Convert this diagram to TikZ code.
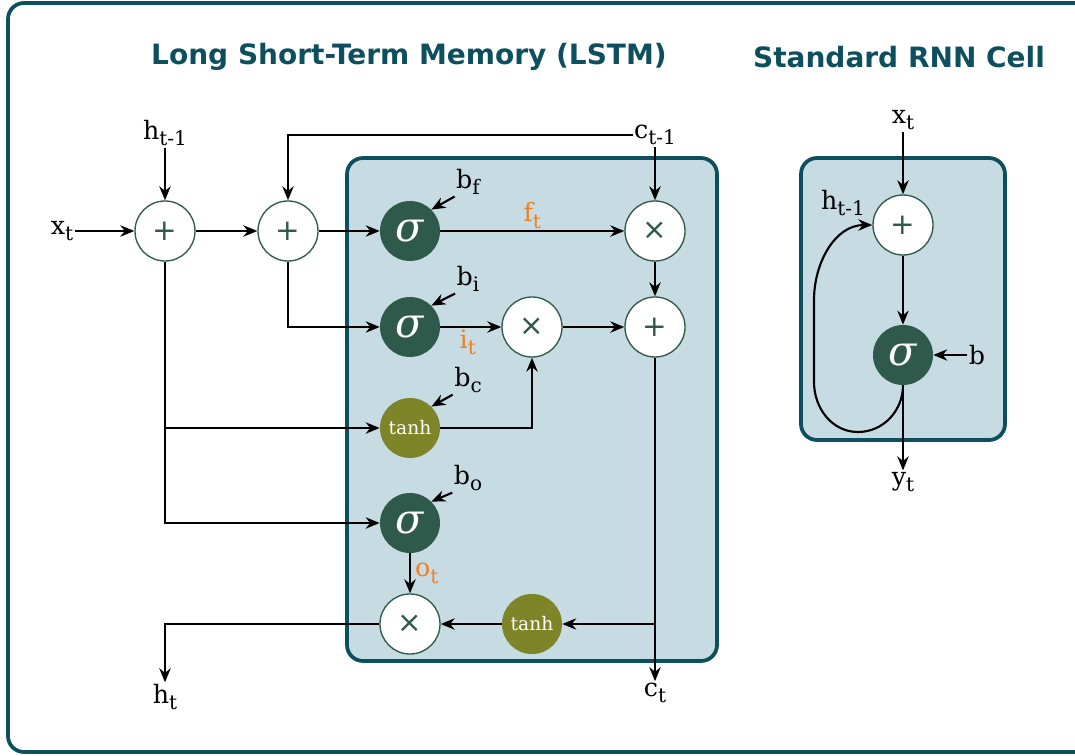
\documentclass[tikz,border=0pt]{standalone}
\usepackage{fontspec}
\setmainfont{DejaVu Serif}
\newfontfamily\titlefont{DejaVu Sans}
\usepackage{xcolor}
\usetikzlibrary{arrows.meta,positioning,calc}
\tikzset{>=stealth}

\definecolor{tealdark}{HTML}{0D4F5E}
\definecolor{cellfill}{HTML}{C7DCE2}
\definecolor{gatedark}{HTML}{2F5A4B}
\definecolor{gateolive}{HTML}{7E8428}
\definecolor{gateorange}{HTML}{F07F1E}
\newcommand{\lsub}[2]{#1\raisebox{-0.5ex}{\fontsize{15}{15}\selectfont #2}}

\begin{document}
\begin{tikzpicture}[
		x=0.75pt, y=-0.75pt,
		>={Stealth[length=10.5pt,width=8.5pt]},
		frame/.style={draw=tealdark, line width=2.8pt, rounded corners=12pt},
		cell/.style={frame, fill=cellfill},
		opnode/.style={circle, draw=gatedark, line width=1pt, fill=white,
			minimum size=45pt, inner sep=0pt, text=gatedark,
			font=\titlefont\fontsize{22}{22}\selectfont},
		signode/.style={circle, fill=gatedark, minimum size=45pt, inner sep=0pt,
			text=white, font=\fontsize{31}{31}\selectfont\itshape},
		tanhnode/.style={circle, fill=gateolive, minimum size=45pt, inner sep=0pt,
			text=white, font=\fontsize{14}{14}\selectfont},
		lbl/.style={font=\fontsize{19}{21}\selectfont, inner sep=1pt},
		gatelbl/.style={lbl, text=gateorange},
		arrow/.style={->, line width=1.6pt},
		title/.style={font=\titlefont\bfseries\fontsize{21}{24}\selectfont, text=tealdark}
		]
		
		\useasboundingbox (0,0) rectangle (1075,756);
		
		% Frames
		\draw[frame] (8,3) rectangle (1095,752);
		\draw[cell] (347,158) rectangle (717,661);
		\draw[cell] (801,158) rectangle (1005,440);
		
		% Titles
		\node[title] (lstmtitle) at (409,57) {Long Short-Term Memory (LSTM)};
		\node[title] (rnntitle) at (899,57) {Standard RNN Cell};
		
		% LSTM inputs
		\node[lbl] (xt) at (62,231) {\lsub{x}{t}};
		\node[lbl] (hprev) at (165,133) {\lsub{h}{t-1}};
		\node[lbl] (cprev) at (655,135) {\lsub{c}{t-1}};
		
		% Row 1: input sums and forget gate
		\node[opnode] (add1) at (165,231) {+};
		\node[opnode] (add2) at (288,231) {+};
		\node[signode] (sigf) at (410,231) {σ};
		\node[opnode] (mulf) at (655,231) {×};
		
		% Row 2: input gate and cell update
		\node[signode] (sigi) at (410,327) {σ};
		\node[opnode] (muli) at (532,327) {×};
		\node[opnode] (addc) at (655,327) {+};
		
		% Row 3: candidate
		\node[tanhnode] (tanhc) at (410,428) {tanh};
		
		% Row 4: output gate
		\node[signode] (sigo) at (410,523) {σ};
		\node[opnode] (mulo) at (410,624) {×};
		\node[tanhnode] (tanhh) at (532,624) {tanh};
		
		% Biases
		\node[lbl] (bf) at (468,182) {\lsub{b}{f}};
		\node[lbl] (bi) at (468,279) {\lsub{b}{i}};
		\node[lbl] (bc) at (468,380) {\lsub{b}{c}};
		\node[lbl] (bo) at (468,478) {\lsub{b}{o}};
		
		% Outputs
		\node[lbl] (ht) at (165,697) {\lsub{h}{t}};
		\node[lbl] (ct) at (655,693) {\lsub{c}{t}};
		
		\coordinate (split) at (add1 |- tanhc);
		\coordinate (ctap) at (addc |- tanhh);
		
		% Arrows
		\draw[arrow] (xt) -- (add1);
		\draw[arrow] (hprev) -- (add1);
		\draw[arrow] (add1) -- (add2);
		\draw[arrow] (add2) -- (sigf);
		\draw[arrow] (cprev.west) -| (add2);
		\draw[arrow] (cprev) -- (mulf);
		\draw[arrow] (sigf) -- node[gatelbl, above, pos=0.5] {\lsub{f}{t}} (mulf);
		\draw[arrow] (mulf) -- (addc);
		\draw[arrow] (add2) |- (sigi);
		\draw[arrow] (sigi) -- node[gatelbl, below, pos=0.45] {\lsub{i}{t}} (muli);
		\draw[arrow] (muli) -- (addc);
		\draw[arrow] (tanhc) -| (muli);
		\draw[arrow] (add1) |- (sigo);
		\draw[arrow] (split) -- (tanhc);
		\draw[arrow] (sigo) -- node[gatelbl, right, xshift=2pt] {\lsub{o}{t}} (mulo);
		\draw[arrow] (addc) -- (ct);
		\draw[arrow] (ctap) -- (tanhh);
		\draw[arrow] (tanhh) -- (mulo);
		\draw[arrow] (mulo) -| (ht);
		
		% Bias arrows
		\draw[arrow] (bf.south west) -- (sigf.north east);
		\draw[arrow] (bi.south west) -- (sigi.north east);
		\draw[arrow] (bc.south west) -- (tanhc.north east);
		\draw[arrow] (bo.south west) -- (sigo.north east);
		
		% Standard RNN cell
		\node[lbl] (xr) at (903,120) {\lsub{x}{t}};
		\node[opnode] (addr) at (903,225) {+};
		\node[signode] (sigr) at (903,355) {σ};
		\node[lbl] (br) at (977,355) {b};
		\node[lbl] (yr) at (903,482) {\lsub{y}{t}};
		\node[lbl] (hr) at (843,203) {\lsub{h}{t-1}};
		
		\draw[arrow] (xr) -- (addr);
		\draw[arrow] (addr) -- (sigr);
		\draw[arrow] (br) -- (sigr);
		\draw[arrow] (sigr) -- (yr);
		\draw[arrow] (sigr.south) to[out=-90,in=0] (858,432)
			to[out=180,in=-90] (814,382) -- (814,300)
			to[out=90,in=180] (addr.west);
		
	\end{tikzpicture}
\end{document}
